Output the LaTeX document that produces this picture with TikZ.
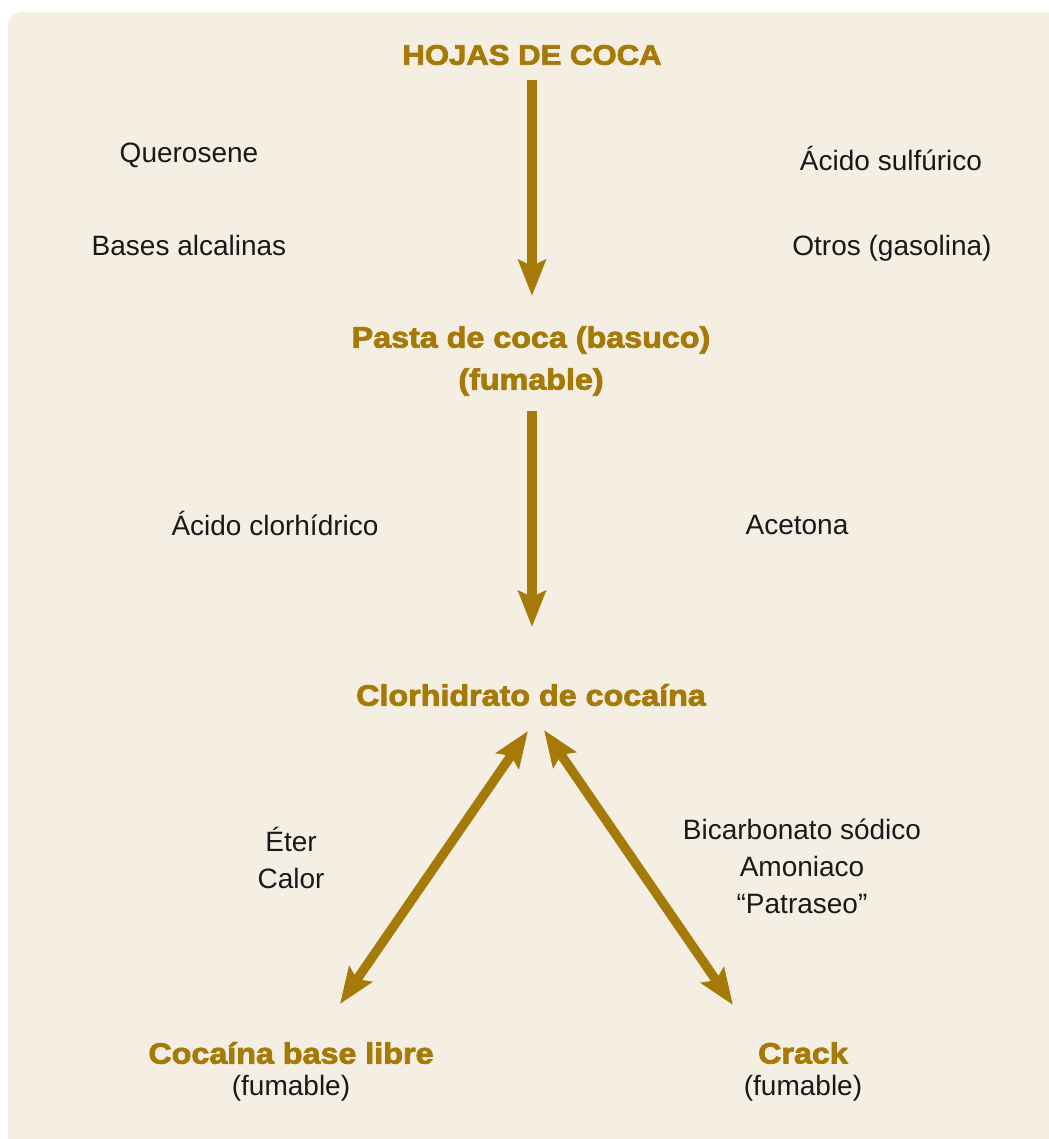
\documentclass[tikz,border=0pt]{standalone}
\usepackage{fontspec}
\setmainfont{Liberation Sans}
\newfontfamily\heavy[FakeStretch=1.1,FakeBold=2.8]{Liberation Sans}
\usetikzlibrary{arrows.meta}
\definecolor{gold}{RGB}{165,122,8}
\definecolor{bgc}{RGB}{245,239,227}
\definecolor{ink}{RGB}{25,25,25}
\begin{document}
\begin{tikzpicture}[x=0.75pt,y=-0.75pt,
  arr/.style={draw=gold, line width=7pt, -{Stealth[length=27pt,width=20.5pt,inset=4.5pt]}},
  darr/.style={draw=gold, line width=7pt, {Stealth[length=27pt,width=20.5pt,inset=4.5pt]}-{Stealth[length=27pt,width=20.5pt,inset=4.5pt]}},
  head/.style={text=gold, font=\heavy\bfseries\fontsize{22}{31.5}\selectfont, align=center, inner sep=0pt},
  lab/.style={text=ink, font=\fontsize{21}{27.75}\selectfont, align=center, inner sep=0pt}]
\useasboundingbox (0,0) rectangle (1049,1139);
\begin{scope}
  \clip (0,0) rectangle (1049,1139);
  \fill[bgc, rounded corners=11pt] (8,12) rectangle (1080,1170);
\end{scope}

% headings
\node[head, font=\heavy\bfseries\fontsize{21.2}{31.5}\selectfont] (hojas) at (532,55) {HOJAS DE COCA};
\node[head] (pasta) at (531,361) {Pasta de coca (basuco)\\(fumable)};
\node[head] (clor) at (531,695) {Clorhidrato de cocaína};
\node[head] (cbl) at (291,1053) {Cocaína base libre};
\node[lab] (cblf) at (291,1088) {(fumable)};
\node[head] (crack) at (803,1053) {Crack};
\node[lab] (crackf) at (803,1088) {(fumable)};

% reagent labels
\node[lab] (quer) at (189,155) {Querosene};
\node[lab] (bases) at (189,245) {Bases alcalinas};
\node[lab] (sulf) at (891,158) {Ácido sulfúrico};
\node[lab] (otros) at (892,248) {Otros (gasolina)};
\node[lab] (hcl) at (275,523) {Ácido clorhídrico};
\node[lab] (acet) at (797,525) {Acetona};
\node[lab] (eter) at (291,858) {Éter\\Calor};
\node[lab] (bicar) at (802,866) {Bicarbonato sódico\\Amoniaco\\“Patraseo”};

% arrow ends
\coordinate (a1s) at (532,80);
\coordinate (a1e) at (532,296);
\coordinate (a2s) at (532,411);
\coordinate (a2e) at (532,627);
\coordinate (l1) at (528,731);
\coordinate (l2) at (340,1004);
\coordinate (r1) at (544,730);
\coordinate (r2) at (733,1005);

\draw[arr] (a1s) -- (a1e);
\draw[arr] (a2s) -- (a2e);
\draw[darr] (l1) -- (l2);
\draw[darr] (r1) -- (r2);
\end{tikzpicture}
\end{document}
